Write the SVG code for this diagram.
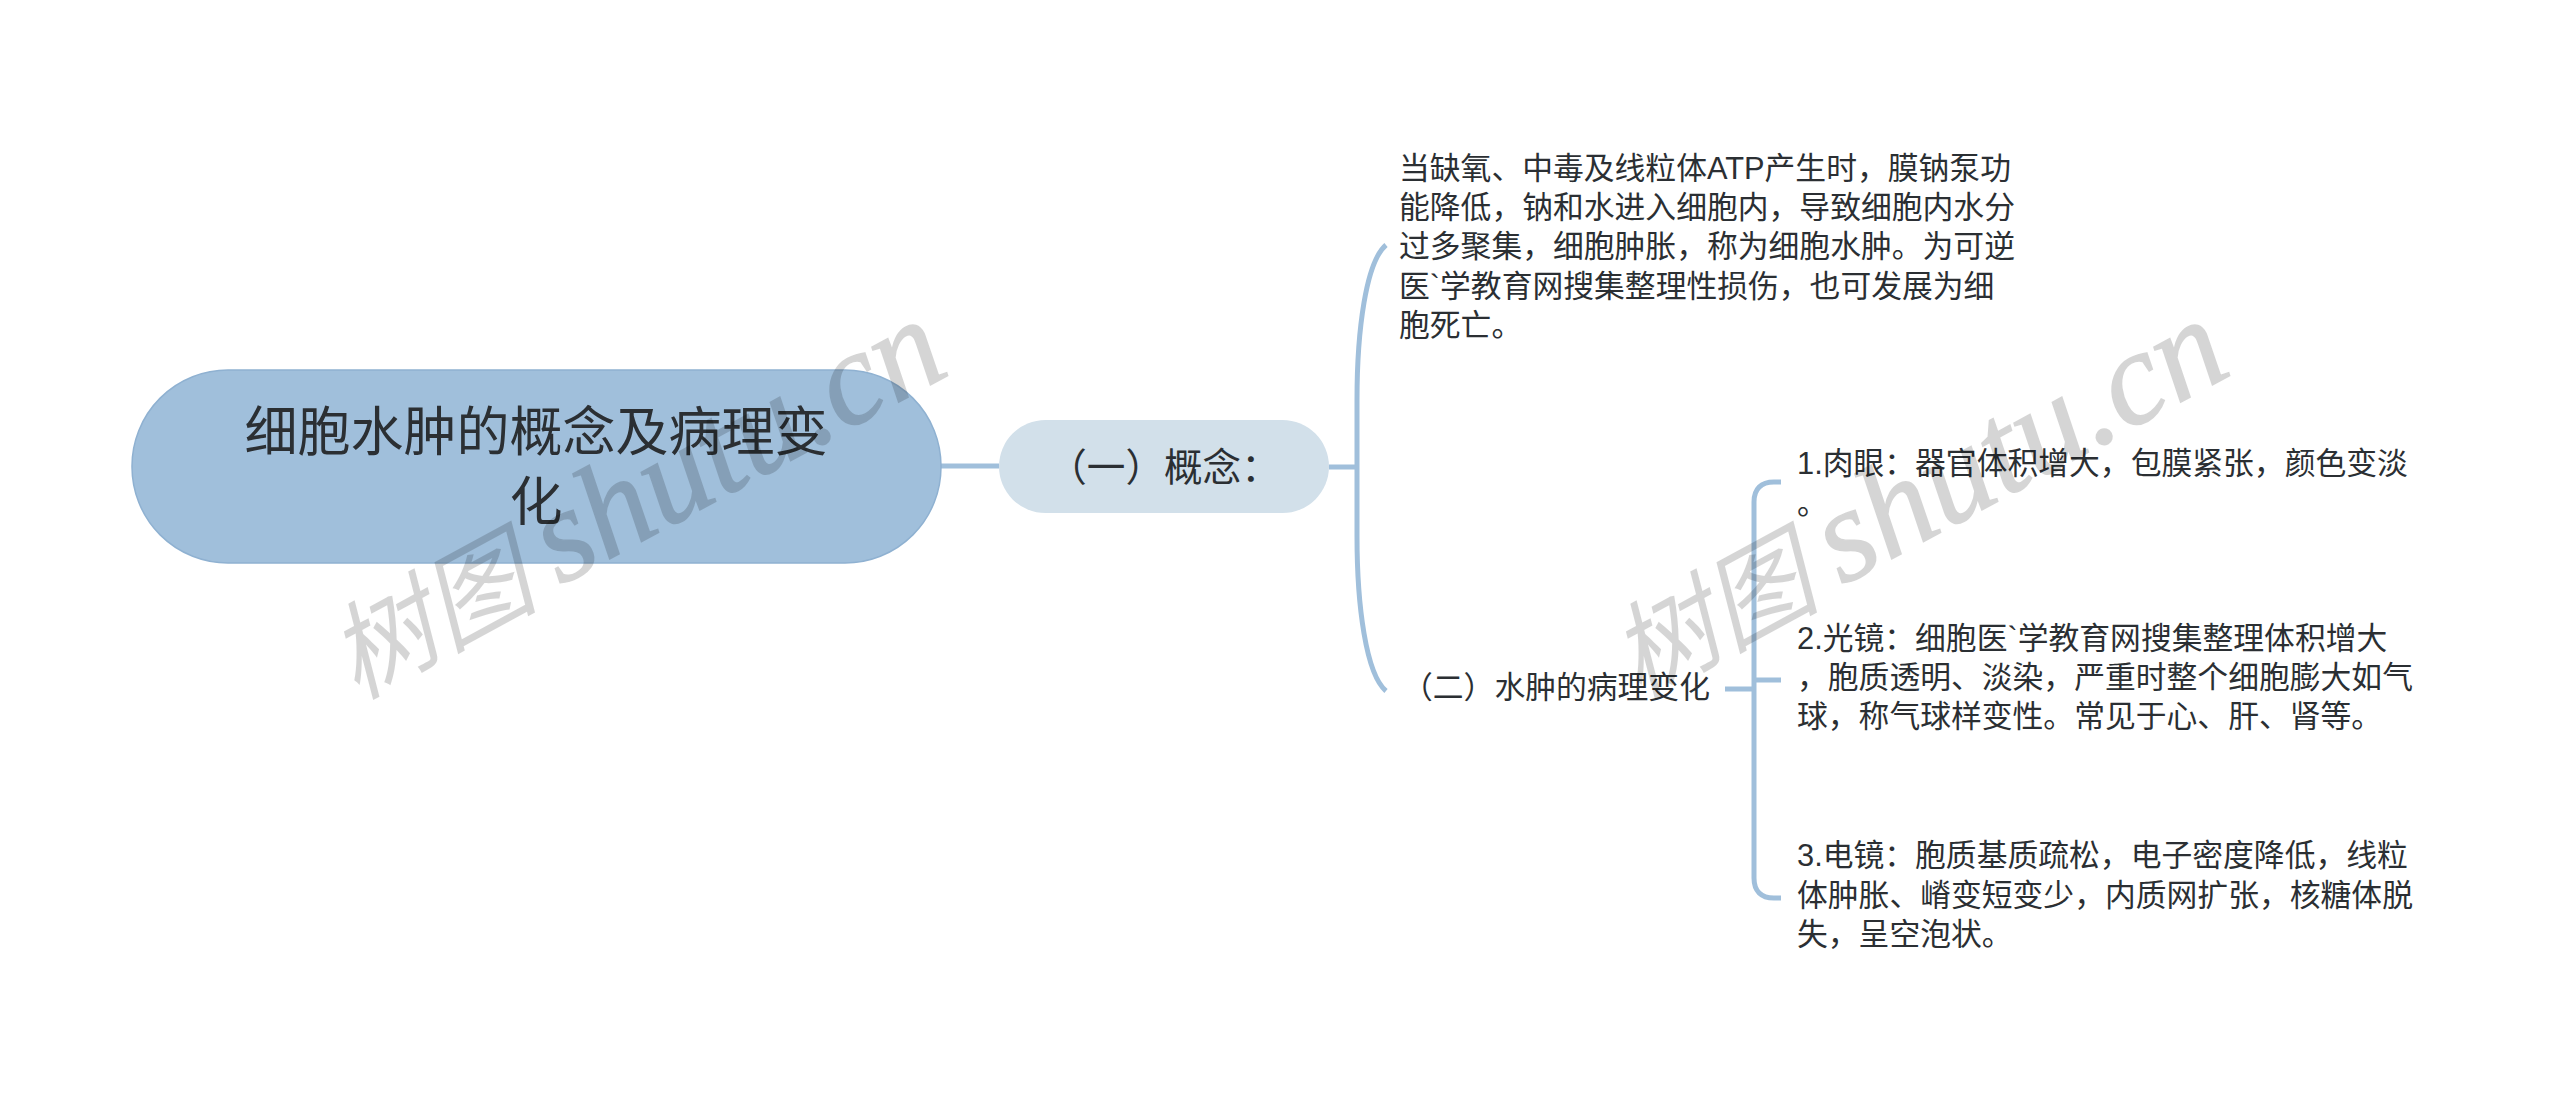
<svg xmlns="http://www.w3.org/2000/svg" width="2560" height="1099" viewBox="0 0 2560 1099">
<style>
.t{font-family:"Liberation Sans","Noto Sans CJK SC",sans-serif;font-size:30.800px;fill:#2b2f33}
.c{fill:none;stroke:#a0bfdb;stroke-width:5;stroke-linecap:butt}
.wl{font-family:"Liberation Serif",serif;font-size:133px;font-style:italic;fill:#000;stroke:#000;stroke-width:1.500px;opacity:.16}
.wc{font-family:"Noto Sans CJK SC",sans-serif;font-size:105px;font-style:italic;fill:#000;opacity:.16}
</style>
<rect width="2560" height="1099" fill="#fff"/>
<g id="connectors">
<path class="c" d="M941 466H999M1329 467H1357"/>
<path class="c" d="M1386 245C1366 262 1357 330 1357 400V536C1357 606 1366 674 1386 691"/>
<path class="c" d="M1725 689H1754M1754 680H1781"/>
<path class="c" d="M1781 482H1774C1761 482 1754 489 1754 502V878C1754 891 1761 898 1774 898H1781"/>
</g>
<g id="root">
<rect x="132" y="370" width="809" height="193" rx="96" fill="#a0bfdb" stroke="#8fb1d1" stroke-width="1.500"/>
<text class="t" style="font-size:53px" text-anchor="middle"><tspan x="536" y="451">细胞水肿的概念及病理变</tspan><tspan x="536" y="521">化</tspan></text>
</g>
<g id="n1">
<rect x="999" y="420" width="330" height="93" rx="46.500" fill="#d2e0ea"/>
<text class="t" style="font-size:38.600px" x="1164" y="481" text-anchor="middle">（一）概念：</text>
</g>
<g id="n1-1">
<text class="t"><tspan x="1399" y="179">当缺氧、中毒及线粒体ATP产生时，膜钠泵功</tspan><tspan x="1399" y="218">能降低，钠和水进入细胞内，导致细胞内水分</tspan><tspan x="1399" y="257">过多聚集，细胞肿胀，称为细胞水肿。为可逆</tspan><tspan x="1399" y="297">医`学教育网搜集整理性损伤，也可发展为细</tspan><tspan x="1399" y="336">胞死亡。</tspan></text>
</g>
<g id="n2">
<text class="t" x="1402" y="698">（二）水肿的病理变化</text>
</g>
<g id="n2-1">
<text class="t"><tspan x="1797" y="474">1.肉眼：器官体积增大，包膜紧张，颜色变淡</tspan><tspan x="1797" y="514">。</tspan></text>
</g>
<g id="n2-2">
<text class="t"><tspan x="1797" y="649">2.光镜：细胞医`学教育网搜集整理体积增大</tspan><tspan x="1797" y="688">，胞质透明、淡染，严重时整个细胞膨大如气</tspan><tspan x="1797" y="727">球，称气球样变性。常见于心、肝、肾等。</tspan></text>
</g>
<g id="n2-3">
<text class="t"><tspan x="1797" y="866">3.电镜：胞质基质疏松，电子密度降低，线粒</tspan><tspan x="1797" y="906">体肿胀、嵴变短变少，内质网扩张，核糖体脱</tspan><tspan x="1797" y="945">失，呈空泡状。</tspan></text>
</g>
<g id="watermarks">
<text class="wc" transform="translate(356 700) rotate(-28.500)">树图</text>
<text class="wl" transform="translate(560 586) rotate(-28.500)">shutu.cn</text>
<text class="wc" transform="translate(1638 700) rotate(-28.500)">树图</text>
<text class="wl" transform="translate(1842 586) rotate(-28.500)">shutu.cn</text>
</g>
</svg>
